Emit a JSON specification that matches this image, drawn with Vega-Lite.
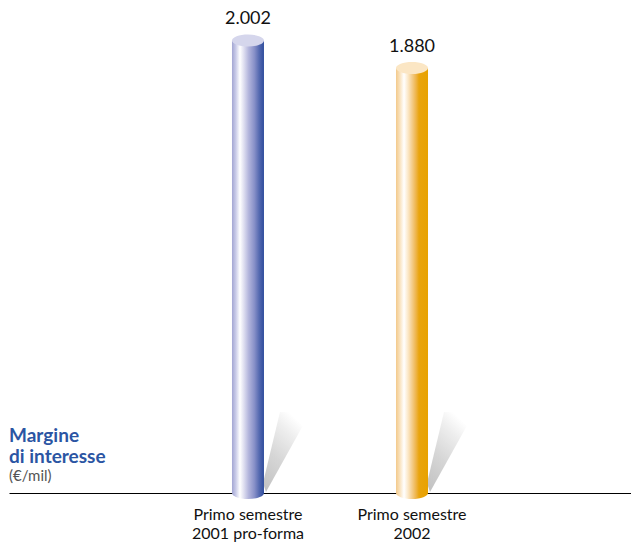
{
  "$schema": "https://vega.github.io/schema/vega-lite/v6.json",
  "width": 622,
  "height": 493,
  "autosize": "none",
  "padding": {"left": 9, "top": 0, "right": 0, "bottom": 49},
  "background": "white",
  "config": {
    "view": {"stroke": null},
    "font": "Lato",
    "locale": {
      "number": {"decimal": ",", "thousands": ".", "grouping": [3], "currency": ["", " €"]}
    }
  },
  "title": {
    "text": ["Margine", "di interesse"],
    "subtitle": "(€/mil)",
    "anchor": "start",
    "frame": "group",
    "orient": "top",
    "offset": 0,
    "dy": 484,
    "font": "Lato",
    "fontSize": 19,
    "fontWeight": "bold",
    "color": "#2b55a3",
    "lineHeight": 21,
    "subtitleFont": "Lato",
    "subtitleFontSize": 15,
    "subtitleColor": "#555555",
    "subtitlePadding": 2
  },
  "data": {
    "values": [
      {"periodo": "Primo semestre 2001 pro-forma", "valore": 2002},
      {"periodo": "Primo semestre 2002", "valore": 1880}
    ]
  },
  "encoding": {
    "x": {
      "field": "periodo",
      "type": "nominal",
      "sort": null,
      "scale": {"type": "band", "paddingInner": 0, "paddingOuter": 0.896, "align": 0.534},
      "axis": {
        "title": null,
        "domain": true,
        "domainColor": "#000000",
        "domainWidth": 1.2,
        "ticks": false,
        "labelAngle": 0,
        "labelFont": "Lato",
        "labelFontSize": 16,
        "labelColor": "#111111",
        "labelPadding": 13,
        "labelLineHeight": 19,
        "labelExpr": "['Primo semestre', replace(datum.label, 'Primo semestre ', '')]"
      }
    },
    "y": {
      "field": "valore",
      "type": "quantitative",
      "scale": {"domain": [0, 2181]},
      "axis": null
    }
  },
  "layer": [
    {
      "description": "cast shadow behind each cylinder, fading upwards",
      "mark": {
        "type": "point",
        "filled": true,
        "opacity": 1,
        "strokeWidth": 0,
        "size": 4,
        "shape": "M15,-10 L32,-81 L62,-80 L18,-1 Z",
        "fill": {
          "gradient": "linear",
          "x1": 0, "y1": 1, "x2": 0.55, "y2": 0,
          "stops": [
            {"offset": 0, "color": "#c0c0c0"},
            {"offset": 0.45, "color": "#d6d6d6"},
            {"offset": 0.8, "color": "#eeeeee"},
            {"offset": 1, "color": "#ffffff"}
          ]
        }
      },
      "encoding": {"y": {"datum": 0, "type": "quantitative"}}
    },
    {
      "description": "rounded bottom of each cylinder",
      "mark": {
        "type": "point",
        "filled": true,
        "opacity": 1,
        "strokeWidth": 0,
        "size": 4,
        "shape": "M-16,0 A16,6 0 1 1 16,0 A16,6 0 1 1 -16,0 Z"
      },
      "encoding": {
        "y": {"datum": 0, "type": "quantitative"},
        "fill": {
          "condition": {
            "test": "indexof(datum.periodo, '2001') >= 0",
            "value": {
              "gradient": "linear", "x1": 0, "y1": 0, "x2": 1, "y2": 0,
              "stops": [
                {"offset": 0, "color": "#a3a6d3"},
                {"offset": 0.12, "color": "#c9cbe8"},
                {"offset": 0.25, "color": "#ffffff"},
                {"offset": 0.38, "color": "#dcdcef"},
                {"offset": 0.52, "color": "#b3b5dc"},
                {"offset": 0.7, "color": "#8890c8"},
                {"offset": 0.85, "color": "#5569b0"},
                {"offset": 1, "color": "#2f4d9c"}
              ]
            }
          },
          "value": {
            "gradient": "linear", "x1": 0, "y1": 0, "x2": 1, "y2": 0,
            "stops": [
              {"offset": 0, "color": "#f3c98a"},
              {"offset": 0.12, "color": "#f9e2bd"},
              {"offset": 0.25, "color": "#ffffff"},
              {"offset": 0.38, "color": "#fbe7c6"},
              {"offset": 0.5, "color": "#f4cd8c"},
              {"offset": 0.62, "color": "#eeb54d"},
              {"offset": 0.72, "color": "#e9a40d"},
              {"offset": 1, "color": "#e8a200"}
            ]
          }
        }
      }
    },
    {
      "description": "cylinder body",
      "mark": {"type": "bar", "size": 32},
      "encoding": {
        "fill": {
          "condition": {
            "test": "indexof(datum.periodo, '2001') >= 0",
            "value": {
              "gradient": "linear", "x1": 0, "y1": 0, "x2": 1, "y2": 0,
              "stops": [
                {"offset": 0, "color": "#a3a6d3"},
                {"offset": 0.12, "color": "#c9cbe8"},
                {"offset": 0.25, "color": "#ffffff"},
                {"offset": 0.38, "color": "#dcdcef"},
                {"offset": 0.52, "color": "#b3b5dc"},
                {"offset": 0.7, "color": "#8890c8"},
                {"offset": 0.85, "color": "#5569b0"},
                {"offset": 1, "color": "#2f4d9c"}
              ]
            }
          },
          "value": {
            "gradient": "linear", "x1": 0, "y1": 0, "x2": 1, "y2": 0,
            "stops": [
              {"offset": 0, "color": "#f3c98a"},
              {"offset": 0.12, "color": "#f9e2bd"},
              {"offset": 0.25, "color": "#ffffff"},
              {"offset": 0.38, "color": "#fbe7c6"},
              {"offset": 0.5, "color": "#f4cd8c"},
              {"offset": 0.62, "color": "#eeb54d"},
              {"offset": 0.72, "color": "#e9a40d"},
              {"offset": 1, "color": "#e8a200"}
            ]
          }
        }
      }
    },
    {
      "description": "flat top of each cylinder",
      "mark": {
        "type": "point",
        "filled": true,
        "opacity": 1,
        "strokeWidth": 0,
        "size": 4,
        "shape": "M-16,0 A16,6 0 1 1 16,0 A16,6 0 1 1 -16,0 Z"
      },
      "encoding": {
        "fill": {
          "condition": {"test": "indexof(datum.periodo, '2001') >= 0", "value": "#d5d6ec"},
          "value": "#fbe6c4"
        }
      }
    },
    {
      "description": "value above each cylinder",
      "mark": {
        "type": "text",
        "baseline": "bottom",
        "dy": -12,
        "font": "Lato",
        "fontSize": 18,
        "color": "#111111"
      },
      "encoding": {
        "text": {"field": "valore", "type": "quantitative", "format": ",d"}
      }
    }
  ]
}
